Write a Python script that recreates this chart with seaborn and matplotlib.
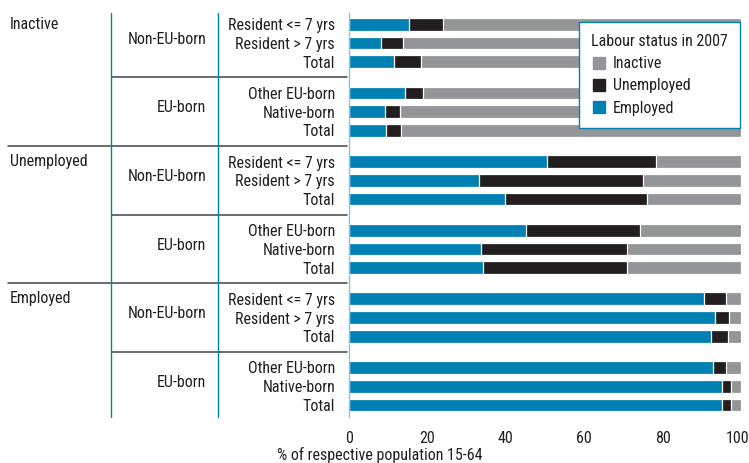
import matplotlib
matplotlib.use("Agg")
import matplotlib.pyplot as plt
import matplotlib.transforms as mtransforms
from matplotlib.lines import Line2D
import numpy as np
import pandas as pd
import seaborn as sns

# Values (% of respective population 15-64)
status_groups = ["Inactive", "Unemployed", "Employed"]
birth_groups = ["Non-EU-born", "EU-born"]
row_labels = [
    "Resident <= 7 yrs", "Resident > 7 yrs", "Total",
    "Other EU-born", "Native-born", "Total",
] * 3
employed = [15.4, 8.2, 11.5, 14.3, 9.3, 9.5,
            50.4, 33.2, 39.9, 45.1, 33.8, 34.1,
            90.6, 93.4, 92.3, 92.9, 95.2, 95.2]
unemployed = [8.7, 5.6, 6.8, 4.7, 3.7, 3.8,
              27.9, 41.9, 36.2, 29.1, 37.0, 36.7,
              5.6, 3.6, 4.4, 3.4, 2.2, 2.2]
inactive = [75.9, 86.2, 81.7, 81.0, 87.0, 86.7,
            21.7, 24.9, 23.9, 25.8, 29.2, 29.2,
            3.8, 3.0, 3.3, 3.7, 2.6, 2.6]
x_ticks = [0, 20, 40, 60, 80, 100]

BLUE = "#0080b3"
BLACK = "#231f20"
GREY = "#939598"
TEXT = "#231f20"
GAP = 0.66
FS = 11.5

sns.set_style("white")
plt.rcParams["font.family"] = ["Roboto Condensed", "Lato", "DejaVu Sans"]

# y position of each row: 3 rows per block, extra gap between blocks
n = len(row_labels)
pos = np.array([i + (i // 3) * GAP for i in range(n)])

df = pd.DataFrame(dict(label=row_labels, pos=pos, employed=employed,
                       unemployed=unemployed, inactive=inactive))
df["end_unemp"] = df.employed + df.unemployed
df["end_all"] = df.end_unemp + df.inactive

fig = plt.figure(figsize=(7.49, 4.63), dpi=100)
ax = fig.add_axes([349 / 749, 1 - 417 / 463, 392 / 749, 404 / 463])

for col, color in [("end_all", GREY), ("end_unemp", BLACK), ("employed", BLUE)]:
    sns.barplot(data=df, x=col, y="pos", orient="y", native_scale=True,
                color=color, width=0.68, edgecolor="white", linewidth=0.9,
                saturation=1, ax=ax)

ax.set_xlim(0, 100)
ax.set_ylim(pos[-1] + 0.64, pos[0] - 0.6)
ax.set_xticks(x_ticks)
ax.set_xticklabels([str(t) for t in x_ticks], fontsize=FS, color=TEXT)
ax.set_yticks(pos)
ax.set_yticklabels(row_labels, fontsize=FS, color=TEXT)
ax.tick_params(axis="y", length=0, pad=10)
ax.tick_params(axis="x", length=0, pad=10)
# keep the "100" label inside the figure
last = ax.get_xticklabels()[-1]
last.set_transform(last.get_transform() +
                   mtransforms.ScaledTranslation(-3 / 100, 0, fig.dpi_scale_trans))
ax.set_ylabel("")
ax.set_xlabel("% of respective population 15-64", fontsize=FS, color=TEXT)
ax.xaxis.set_label_coords((380 - 349) / 392, -0.075)
for side in ["top", "right", "bottom"]:
    ax.spines[side].set_visible(False)
ax.spines["left"].set_color("#8cc4de")
ax.spines["left"].set_linewidth(1.0)

# group labels and dividers on the left
trans = mtransforms.blended_transform_factory(fig.transFigure, ax.transData)
for i in range(0, n, 3):
    block = i // 3
    ax.text(206 / 749, pos[i + 1] - 0.2, birth_groups[block % 2],
            transform=trans, ha="right", va="center", fontsize=FS, color=TEXT)
    if block % 2 == 0:
        ax.text(10 / 749, pos[i], status_groups[block // 2], transform=trans,
                ha="left", va="center", fontsize=FS, color=TEXT)
    if i + 3 < n:
        mid = (pos[i + 2] + pos[i + 3]) / 2
        x0 = 112 / 749 if block % 2 == 0 else 8 / 749
        ax.plot([x0, 347 / 749], [mid, mid], transform=trans, color="#444444",
                lw=1.1, clip_on=False)

for xv in [111 / 749, 218 / 749]:
    ax.plot([xv, xv], [pos[0] - 0.6, pos[-1] + 0.64], transform=trans,
            color=BLUE, lw=1.0, clip_on=False)

handles = [Line2D([], [], marker="s", linestyle="", markersize=9, color=c)
           for c in [GREY, BLACK, BLUE]]
leg = ax.legend(handles, ["Inactive", "Unemployed", "Employed"],
                title="Labour status in 2007", loc="upper right",
                bbox_to_anchor=(740 / 749, 1 - 22 / 463),
                bbox_transform=fig.transFigure, borderaxespad=0,
                fontsize=FS, title_fontsize=FS, frameon=True,
                fancybox=False, framealpha=1, handletextpad=0.35,
                labelspacing=0.45, borderpad=0.75, handlelength=1.0)
leg._legend_box.align = "left"
leg.get_frame().set_edgecolor(BLUE)
leg.get_frame().set_linewidth(1.0)
for t in leg.get_texts():
    t.set_color(TEXT)
leg.get_title().set_color(TEXT)

fig.savefig("out.png", dpi=100)
